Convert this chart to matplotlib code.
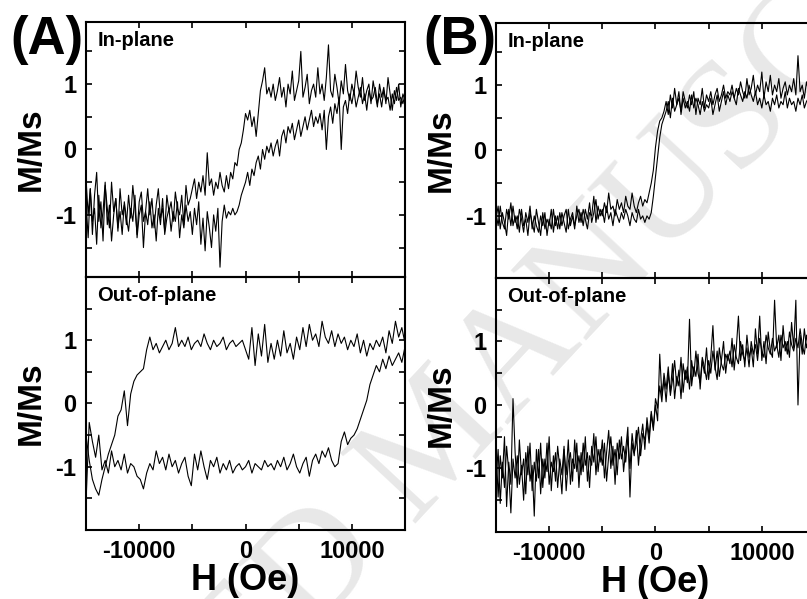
import numpy as np
import matplotlib.pyplot as plt
from matplotlib.ticker import MultipleLocator

# field sweeps (Oe)
H_fine = np.arange(-15000, 15001, 200)    # 151 points
H_coarse = np.arange(-15000, 15001, 300)  # 101 points

# (A) in-plane, two branches
a_ip_1 = [-0.45, -1.0, -0.6, -1.3, -0.7, -0.35, -1.1, -0.8, -1.4, -0.55,
          -0.9, -1.2, -0.5, -0.95, -0.75, -1.25, -0.6, -1.0, -0.85, -1.15,
          -0.7, -1.05, -0.55, -0.9, -1.3, -0.8, -0.65, -1.1, -0.95, -0.6,
          -1.0, -0.75, -1.2, -0.85, -0.6, -1.05, -0.9, -1.25, -0.7, -0.95,
          -0.8, -1.1, -0.65, -0.9, -1.0, -0.7, -1.15, -0.55, -0.85, -0.75,
          -0.6, -0.45, -0.75, -0.5, -0.65, -0.4, -0.7, -0.05, -0.55, -0.45,
          -0.7, -0.5, -0.6, -0.35, -0.55, -0.65, -0.4, -0.6, -0.35, -0.45,
          -0.2, -0.25, 0.0, 0.1, 0.3, 0.55, 0.45, 0.6, 0.35, 0.5,
          0.2, 0.55, 0.9, 1.05, 1.25, 0.85, 0.95, 0.8, 1.0, 0.75,
          0.9, 1.1, 0.8, 0.95, 0.65, 1.0, 0.85, 1.2, 0.75, 0.9,
          1.05, 1.5, 0.8, 0.95, 1.15, 0.7, 0.9, 1.0, 0.8, 1.25,
          0.85, 1.0, 0.75, 1.1, 1.6, 0.9, 0.8, 1.15, 0.95, 0.7,
          1.05, 0.85, 1.3, 0.9, 0.75, 1.0, 0.85, 1.2, 0.95, 0.8,
          1.1, 0.75, 0.9, 1.0, 0.7, 1.05, 0.85, 0.65, 1.0, 0.8,
          0.95, 0.7, 1.1, 0.85, 0.6, 0.9, 0.75, 1.0, 0.65, 0.85, 0.75]
a_ip_2 = [-0.8, -1.35, -0.6, -1.1, -0.9, -1.45, -0.7, -1.2, -0.95, -0.5,
          -1.15, -0.85, -1.4, -1.0, -0.75, -1.2, -0.95, -1.3, -0.8, -1.05,
          -1.25, -0.9, -1.1, -0.7, -1.35, -1.0, -0.85, -1.5, -0.95, -1.15,
          -0.8, -1.2, -1.0, -1.4, -0.9, -1.15, -0.75, -1.3, -1.05, -0.9,
          -1.25, -0.95, -1.1, -0.8, -1.35, -1.0, -1.2, -0.85, -1.1, -0.95,
          -1.3, -0.9, -1.15, -0.8, -1.45, -1.05, -1.55, -0.95, -1.2, -1.5,
          -1.0, -1.25, -0.9, -1.8, -1.1, -0.85, -1.05, -0.95, -1.0, -0.9,
          -1.0, -0.95, -0.85, -0.7, -0.6, -0.5, -0.35, -0.55, -0.3, -0.4,
          -0.2, -0.1, -0.3, 0.0, -0.15, 0.05, -0.05, 0.1, -0.1, 0.05,
          0.15, -0.1, 0.2, 0.3, 0.1, 0.35, 0.25, 0.4, 0.15, 0.3,
          0.45, 0.2, 0.35, 0.5, 0.3, 0.45, 0.6, 0.35, 0.5, 0.4,
          0.55, 0.3, 0.6, 0.0, 0.5, 0.65, 0.4, 0.7, 0.55, 0.8,
          0.0, 0.65, 0.75, 0.55, 0.85, 0.7, 0.9, 0.65, 0.8, 0.95,
          0.7, 0.85, 0.6, 0.9, 0.75, 0.8, 0.95, 0.7, 0.85, 0.65,
          0.9, 0.75, 0.8, 0.6, 0.85, 0.7, 0.95, 0.75, 0.8, 0.7, 0.85]

# (A) out-of-plane, coarse sweep
a_op_1 = [-0.5, -0.9, -1.2, -1.35, -1.45, -1.2, -1.0, -0.8, -0.65, -0.5,
          -0.2, -0.1, 0.2, -0.35, 0.15, 0.35, 0.45, 0.5, 0.55, 0.85,
          1.05, 0.85, 0.95, 0.8, 0.9, 1.0, 0.85, 0.95, 1.2, 0.9,
          1.0, 0.9, 1.05, 0.85, 0.95, 1.0, 0.9, 1.1, 0.95, 0.85,
          1.0, 0.9, 0.95, 1.05, 0.85, 0.95, 1.0, 0.9, 0.95, 1.0,
          0.85, 0.7, 1.2, 0.6, 1.1, 0.75, 1.25, 0.65, 0.95, 0.7,
          1.0, 0.75, 1.15, 0.8, 0.95, 0.7, 1.05, 0.85, 1.2, 0.9,
          1.25, 1.0, 1.1, 0.9, 1.3, 1.05, 0.95, 1.15, 0.9, 1.1,
          0.95, 1.05, 0.85, 1.0, 0.9, 1.1, 0.8, 1.0, 0.75, 0.95,
          0.85, 1.0, 0.9, 1.05, 0.8, 1.15, 0.95, 1.3, 1.05, 1.2, 0.95]
a_op_2 = [-1.55, -0.3, -0.6, -0.85, -0.5, -1.05, -0.9, -1.1, -0.75, -1.0,
          -0.9, -1.05, -0.8, -1.1, -0.95, -1.0, -1.15, -1.2, -1.35, -1.1,
          -0.95, -1.05, -0.75, -0.95, -0.85, -1.05, -0.8, -1.0, -0.9, -1.1,
          -0.95, -0.85, -1.15, -1.3, -0.8, -1.05, -0.75, -1.0, -1.2, -0.9,
          -1.0, -0.85, -1.1, -0.95, -1.05, -0.9, -1.1, -1.0, -0.95, -1.05,
          -1.0, -0.9, -1.1, -0.95, -1.0, -1.05, -0.9, -1.0, -0.95, -1.05,
          -0.9, -1.0, -0.85, -1.05, -0.95, -0.8, -1.0, -1.1, -0.95, -0.85,
          -1.15, -0.9, -0.8, -0.95, -0.75, -0.85, -0.7, -0.9, -1.0, -0.95,
          -0.6, -0.45, -0.65, -0.55, -0.5, -0.4, -0.25, -0.1, 0.05, 0.3,
          0.45, 0.6, 0.5, 0.7, 0.55, 0.75, 0.6, 0.7, 0.8, 0.65, 0.9]

# (B) in-plane
b_ip_1 = [-0.95, -1.15, -0.85, -1.1, -1.2, -0.9, -1.05, -0.8, -1.15, -1.0,
          -1.2, -0.9, -1.05, -1.25, -0.95, -1.1, -0.85, -1.2, -1.0, -1.15,
          -1.25, -1.0, -1.15, -0.95, -1.3, -1.05, -1.2, -0.9, -1.15, -1.0,
          -1.2, -0.95, -1.1, -1.25, -0.9, -1.15, -1.0, -1.2, -0.85, -1.1,
          -0.95, -1.15, -0.9, -1.05, -0.8, -1.1, -0.95, -0.75, -1.05, -0.9,
          -1.0, -0.8, -0.95, -0.65, -0.9, -0.85, -1.0, -0.75, -0.9, -0.8,
          -0.95, -0.7, -0.85, -0.9, -0.65, -0.85, -0.95, -0.8, -0.7, -0.85,
          -0.75, -0.8, -0.65, -0.5, -0.3, 0.05, 0.3, 0.45, 0.5, 0.6,
          0.75, 0.55, 0.85, 0.65, 0.95, 0.7, 0.8, 0.6, 0.9, 0.75,
          0.65, 0.85, 0.7, 0.9, 0.55, 0.8, 0.7, 0.95, 0.65, 0.85,
          0.75, 0.9, 0.7, 0.85, 0.95, 0.75, 0.85, 1.0, 0.8, 0.9,
          0.85, 1.0, 0.8, 0.95, 0.85, 1.05, 0.9, 0.8, 1.1, 0.85,
          0.95, 1.15, 0.85, 1.0, 0.9, 1.2, 0.8, 1.05, 0.9, 1.15,
          0.85, 1.0, 0.9, 1.1, 0.8, 0.95, 1.05, 0.85, 1.0, 0.9,
          1.1, 0.85, 1.45, 0.9, 1.0, 0.8, 1.05, 0.9, 0.85, 1.0, 0.9]
b_ip_2 = [-1.05, -0.85, -1.2, -0.95, -1.1, -1.3, -0.9, -1.15, -0.85, -1.1,
          -1.0, -1.25, -0.9, -1.15, -1.05, -1.3, -0.95, -1.1, -1.25, -0.9,
          -1.1, -1.3, -0.95, -1.2, -1.05, -1.15, -0.9, -1.25, -1.0, -1.2,
          -0.95, -1.15, -1.0, -0.9, -1.2, -1.05, -0.95, -1.15, -1.0, -0.9,
          -1.1, -0.9, -1.05, -1.2, -0.95, -1.0, -0.7, -1.1, -0.85, -1.0,
          -0.9, -1.1, -0.85, -1.05, -0.95, -1.15, -0.9, -1.0, -1.1, -0.95,
          -1.05, -0.9, -1.0, -1.15, -0.95, -1.05, -1.1, -0.9, -1.05, -1.0,
          -1.1, -1.0, -1.05, -0.95, -0.7, -0.4, -0.1, 0.2, 0.4, 0.5,
          0.6, 0.75, 0.5, 0.8, 0.6, 0.7, 0.9, 0.55, 0.8, 0.65,
          0.75, 0.6, 0.85, 0.65, 0.8, 0.7, 0.55, 0.75, 0.6, 0.7,
          0.65, 0.8, 0.55, 0.7, 0.85, 0.6, 0.75, 0.9, 0.7, 0.85,
          0.75, 0.9, 0.8, 0.7, 0.95, 0.85, 0.75, 0.9, 0.8, 1.0,
          0.85, 0.75, 0.9, 0.7, 0.8, 0.65, 0.85, 0.7, 0.75, 0.6,
          0.8, 0.7, 0.85, 0.65, 0.75, 0.7, 0.9, 0.65, 0.8, 0.7,
          0.75, 0.6, 0.8, 0.7, 0.85, 0.65, 0.75, 0.8, 0.7, 0.85, 0.75]

# (B) out-of-plane
b_op_1 = [-0.6, -1.45, -0.8, -1.15, -0.5, -1.6, -0.9, -1.25, 0.1, -0.75,
          -1.3, -0.55, -1.1, -0.85, -1.4, -0.65, -1.2, -0.95, -1.75, -0.7,
          -1.15, -0.6, -1.3, -0.85, -1.05, -0.5, -1.35, -0.8, -1.2, -0.65,
          -1.0, -1.4, -0.7, -1.1, -0.55, -1.25, -0.85, -1.0, -0.6, -1.3,
          -0.75, -1.05, -0.5, -1.2, -0.8, -0.95, -0.45, -1.1, -0.7, -0.9,
          -0.55, -1.15, -0.75, -0.4, -1.0, -0.65, -1.25, -0.6, -0.85, -0.5,
          -1.05, -0.7, -0.35, -1.45, -0.6, -0.8, -0.4, -0.95, -0.55, -0.3,
          -0.7, -0.2, -0.5, -0.1, -0.35, 0.0, -0.25, 0.8, 0.15, 0.4,
          0.05, 0.5, 0.2, 0.65, 0.1, 0.45, 0.3, 0.75, 0.2, 0.55,
          0.35, 1.35, 0.3, 0.6, 0.45, 0.8, 0.25, 0.7, 0.5, 0.9,
          0.4, 0.75, 1.25, 0.55, 0.85, 0.45, 0.7, 1.0, 0.5, 0.8,
          0.65, 1.05, 0.55, 0.9, 1.4, 0.7, 0.95, 0.6, 1.1, 0.75,
          0.9, 0.6, 1.2, 0.8, 1.4, 0.7, 1.0, 0.65, 1.15, 0.85,
          0.75, 1.65, 0.9, 1.1, 0.7, 1.25, 0.85, 1.0, 0.75, 1.3,
          0.9, 1.65, 0.0, 1.1, 0.8, 1.2, 0.9, 1.05, 0.85, 1.15, 0.95]
b_op_2 = [-1.2, -0.7, -1.55, -0.9, -1.3, -0.65, -1.05, -1.7, -0.85, -1.15,
          -0.8, -1.25, -0.95, -1.5, -0.75, -1.1, -0.6, -1.35, -0.9, -1.2,
          -0.7, -1.4, -0.85, -1.15, -0.6, -1.25, -0.9, -1.05, -0.75, -1.3,
          -0.85, -1.1, -0.65, -1.35, -0.9, -0.75, -1.2, -0.55, -1.05, -0.8,
          -1.1, -0.6, -0.95, -0.75, -1.3, -0.65, -0.9, -0.5, -1.05, -0.7,
          -0.95, -0.6, -1.2, -0.8, -0.5, -0.95, -0.7, -1.1, -0.55, -0.85,
          -0.65, -0.9, -0.5, -1.0, -0.45, -0.75, -0.6, -0.35, -0.8, -0.45,
          -0.55, -0.3, -0.6, -0.15, -0.4, 0.1, -0.05, 0.3, 0.05, 0.5,
          0.25, 0.6, 0.15, 0.4, 0.7, 0.3, 0.55, 0.1, 0.65, 0.4,
          0.6, 0.25, 0.7, 0.45, 0.85, 0.5, 0.35, 0.75, 0.6, 0.4,
          0.7, 0.5, 0.85, 0.6, 0.4, 0.9, 0.65, 0.55, 0.8, 0.7,
          0.85, 0.6, 0.95, 0.75, 0.65, 1.0, 0.8, 0.7, 0.9, 0.6,
          1.0, 0.8, 0.95, 0.7, 1.05, 0.85, 0.75, 1.1, 0.9, 0.8,
          1.05, 0.85, 0.95, 0.75, 1.1, 0.9, 1.0, 0.8, 1.15, 0.95,
          0.85, 1.05, 0.9, 1.2, 0.95, 0.8, 1.1, 0.9, 1.0, 0.85, 0.95]

xticks = [-10000, 0, 10000]
yticks = [-1, 0, 1]

plt.rcParams['font.family'] = ['Liberation Sans', 'DejaVu Sans']
plt.rcParams['font.weight'] = 'bold'
plt.rcParams['axes.unicode_minus'] = False

fig = plt.figure(figsize=(8.07, 5.99), dpi=100)
fig.patch.set_facecolor('white')

# watermark behind the axes
fig.text(0.579, 0.219, 'ACCEPTED MANUSCRIPT', family='Liberation Serif',
         fontweight='normal', fontsize=112, color='#e8e8e8', rotation=47,
         rotation_mode='anchor', ha='center', va='baseline', zorder=-1)

panels = [
    # box, sweep, branch 1, branch 2, tag, y half-range, bottom row?
    ([0.1066, 0.5376, 0.3953, 0.4257], H_fine, a_ip_1, a_ip_2, 'In-plane', 1.95, False),
    ([0.1066, 0.1152, 0.3953, 0.4224], H_coarse, a_op_1, a_op_2, 'Out-of-plane', 2.0, True),
    ([0.6146, 0.5359, 0.3953, 0.4257], H_fine, b_ip_1, b_ip_2, 'In-plane', 1.95, False),
    ([0.6146, 0.1119, 0.3953, 0.4240], H_fine, b_op_1, b_op_2, 'Out-of-plane', 2.0, True),
]

for box, H, y1, y2, tag, ylim, bottom in panels:
    ax = fig.add_axes(box)
    ax.patch.set_visible(False)
    ax.plot(H, y1, color='black', lw=0.8)
    ax.plot(H, y2, color='black', lw=0.8)
    ax.set_xlim(-15000, 15000)
    ax.set_ylim(-ylim, ylim)
    ax.set_xticks(xticks)
    ax.set_yticks(yticks)
    ax.xaxis.set_minor_locator(MultipleLocator(5000))
    ax.yaxis.set_minor_locator(MultipleLocator(0.5))
    ax.tick_params(which='both', direction='in', top=True, right=True,
                   length=4, width=1.2, labelsize=17, pad=7)
    for s in ax.spines.values():
        s.set_linewidth(1.5)
    ax.text(0.035, 0.965, tag, transform=ax.transAxes, ha='left', va='top',
            fontsize=14.5, fontweight='bold')
    ax.set_ylabel('M/Ms', fontsize=24, fontweight='bold', labelpad=6)
    if bottom:
        ax.set_xlabel('H (Oe)', fontsize=26, fontweight='bold', labelpad=0)
    else:
        ax.tick_params(labelbottom=False)

fig.text(0.013, 0.975, '(A)', fontsize=38, fontweight='bold', va='top', ha='left')
fig.text(0.525, 0.975, '(B)', fontsize=38, fontweight='bold', va='top', ha='left')

fig.savefig('out.png', dpi=100)
